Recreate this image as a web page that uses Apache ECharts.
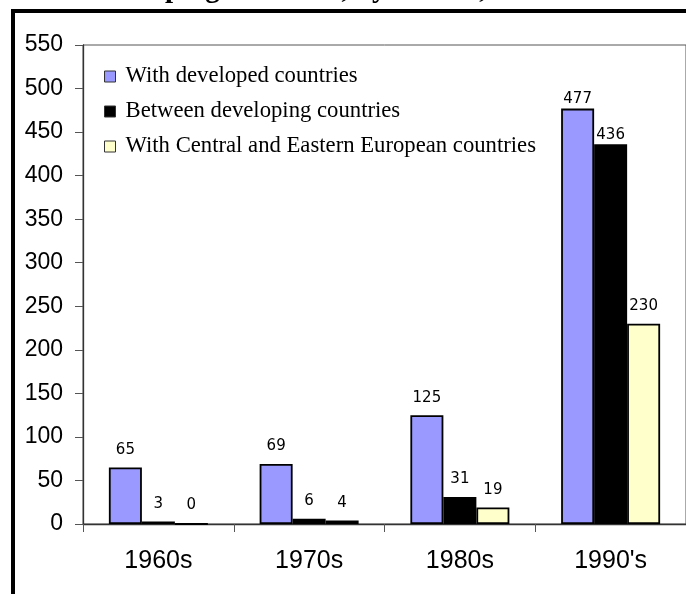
<!DOCTYPE html>
<html>
<head>
<meta charset="utf-8">
<script src="https://cdn.jsdelivr.net/npm/echarts@6/dist/echarts.min.js"></script>
<style>
  html, body { margin: 0; padding: 0; background: #fff; }
  #chart { width: 686px; height: 594px; }
</style>
</head>
<body>
<div id="chart"></div>
<script>
const categories = ["1960s", "1970s", "1980s", "1990's"];
const seriesNames = [
  "With developed countries",
  "Between developing countries",
  "With Central and Eastern European countries"
];
const withDeveloped = [65, 69, 125, 477];
const betweenDeveloping = [3, 6, 31, 436];
const withCEE = [0, 4, 19, 230];
const yTicks = { min: 0, max: 550, interval: 50 };
const titleText = "BITs of developing countries, by decade, 1960s-1990s";
const titleLead = "BITs of develo";

const colors = ["#9999FF", "#000000", "#FFFFCC"];

const chart = echarts.init(document.getElementById('chart'), null, { renderer: 'canvas' });

const titleFont = "bold 29px 'Liberation Serif'";
const ctx = document.createElement('canvas').getContext('2d');
ctx.font = titleFont;
const leadW = ctx.measureText(titleLead).width;

function makeSeries(name, values, color) {
  return {
    name: name,
    type: 'bar',
    barWidth: 33,
    barGap: '0%',
    data: values.map((v, i) => ({
      value: v,
      label: { distance: i === 3 && v > 300 ? 2 : 10 }
    })),
    itemStyle: { color: color, borderColor: '#000', borderWidth: 1.8 },
    label: {
      show: true,
      position: 'top',
      fontFamily: 'DejaVu Sans',
      fontSize: 15,
      color: '#000'
    },
    emphasis: { disabled: true },
    animation: false
  };
}

const option = {
  animation: false,
  backgroundColor: '#fff',
  graphic: [
    {
      type: 'text',
      x: 165 - leadW,
      y: -10,
      style: {
        text: titleText,
        font: titleFont,
        fill: '#000',
        verticalAlign: 'middle',
        align: 'left'
      },
      z: 10
    },
    {
      type: 'rect',
      shape: { x: 13, y: 11, width: 1000, height: 1000 },
      style: { fill: null, stroke: '#000', lineWidth: 4 },
      z: 10
    }
  ],
  grid: {
    left: 83,
    top: 45,
    right: -4,
    bottom: 70,
    show: true,
    borderColor: '#555',
    borderWidth: 1,
    backgroundColor: '#fff',
    containLabel: false
  },
  legend: {
    orient: 'vertical',
    left: 99,
    top: 60,
    itemWidth: 11,
    itemHeight: 11,
    itemGap: 12,
    icon: 'rect',
    selectedMode: false,
    data: seriesNames,
    itemStyle: { borderColor: '#333', borderWidth: 1 },
    textStyle: {
      fontFamily: 'Liberation Serif',
      fontSize: 22.7,
      color: '#000',
      lineHeight: 23,
      padding: [0, 0, 0, 5]
    }
  },
  xAxis: {
    type: 'category',
    data: categories,
    axisLine: { show: true, lineStyle: { color: '#333', width: 1.3 } },
    axisTick: { show: true, length: 8, interval: 0, lineStyle: { color: '#555', width: 1 } },
    axisLabel: {
      fontFamily: 'Liberation Sans',
      fontSize: 25,
      color: '#000',
      margin: 25,
      interval: 0
    },
    splitLine: { show: false }
  },
  yAxis: {
    type: 'value',
    min: yTicks.min,
    max: yTicks.max,
    interval: yTicks.interval,
    axisLine: { show: true, lineStyle: { color: '#333', width: 1.3 } },
    axisTick: { show: true, length: 8, lineStyle: { color: '#555', width: 1 } },
    axisLabel: {
      fontFamily: 'Liberation Sans',
      fontSize: 23,
      color: '#000',
      margin: 20
    },
    splitLine: { show: false }
  },
  series: [
    makeSeries(seriesNames[0], withDeveloped, colors[0]),
    makeSeries(seriesNames[1], betweenDeveloping, colors[1]),
    makeSeries(seriesNames[2], withCEE, colors[2])
  ]
};

chart.setOption(option);
</script>
</body>
</html>
